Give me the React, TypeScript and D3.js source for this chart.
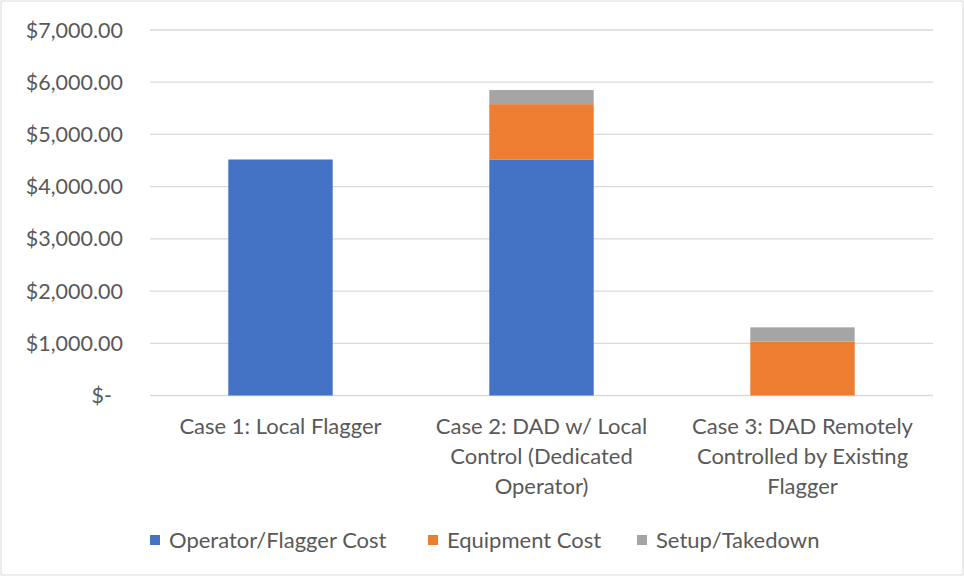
import React from "react";
import * as d3 from "d3";

const categories = [
  ["Case 1: Local Flagger"],
  ["Case 2: DAD w/ Local", "Control (Dedicated", "Operator)"],
  ["Case 3: DAD Remotely", "Controlled by Existing", "Flagger"],
];
const seriesNames = ["Operator/Flagger Cost", "Equipment Cost", "Setup/Takedown"];
const operatorCost = [4520, 4520, 0];
const equipmentCost = [0, 1060, 1030];
const setupCost = [0, 270, 275];
const yTicks = [0, 1000, 2000, 3000, 4000, 5000, 6000, 7000];
const colors = ["#4472C4", "#ED7D31", "#A5A5A5"];

const W = 964;
const H = 577;
const FONT = "Lato, 'Open Sans', sans-serif";
const TEXT = "#595959";

export default function App() {
  const keys = categories.map((c) => c.join(" "));
  const x = d3.scaleBand<string>().domain(keys).range([150, 933]).paddingInner(0.6).paddingOuter(0.3);
  const y = d3.scaleLinear().domain([0, 7000]).range([395.5, 30]);
  const rows = keys.map((k, i) => ({ key: k, s0: operatorCost[i], s1: equipmentCost[i], s2: setupCost[i] }));
  const stack = d3.stack<any>().keys(["s0", "s1", "s2"])(rows);
  const fmt = (v: number) => (v === 0 ? "$-" : "$" + d3.format(",.2f")(v));
  const legendX = [150, 428, 637];

  return (
    <svg width={W} height={H} style={{ position: "absolute", left: 0, top: 0, background: "#fff" }} fontFamily={FONT}>
      <rect x={1} y={1} width={W - 2} height={H - 3} fill="#fff" stroke="#d9d9d9" strokeWidth={1} />
      {yTicks.map((t) => (
        <g key={t}>
          <line x1={150} x2={933} y1={y(t)} y2={y(t)} stroke="#d9d9d9" strokeWidth={1.3} />
          <text x={t === 0 ? 112 : 123} y={y(t)} dy="0.35em" textAnchor="end" fontSize={21.5} fill={TEXT}>
            {fmt(t)}
          </text>
        </g>
      ))}
      {stack.map((layer, si) => (
        <g key={si} fill={colors[si]}>
          {layer.map((d, i) =>
            d[1] - d[0] > 0 ? (
              <rect key={i} x={x(keys[i])} width={x.bandwidth()} y={y(d[1])} height={y(d[0]) - y(d[1])} />
            ) : null
          )}
        </g>
      ))}
      {categories.map((lines, i) => (
        <text key={i} textAnchor="middle" fontSize={22} fill={TEXT}>
          {lines.map((l, j) => (
            <tspan key={j} x={(x(keys[i]) as number) + x.bandwidth() / 2} y={434 + j * 30}>
              {l}
            </tspan>
          ))}
        </text>
      ))}
      {seriesNames.map((n, i) => (
        <g key={n}>
          <rect x={legendX[i]} y={535} width={10} height={10} fill={colors[i]} />
          <text x={legendX[i] + 19} y={540} dy="0.35em" fontSize={22} fill={TEXT}>
            {n}
          </text>
        </g>
      ))}
    </svg>
  );
}
